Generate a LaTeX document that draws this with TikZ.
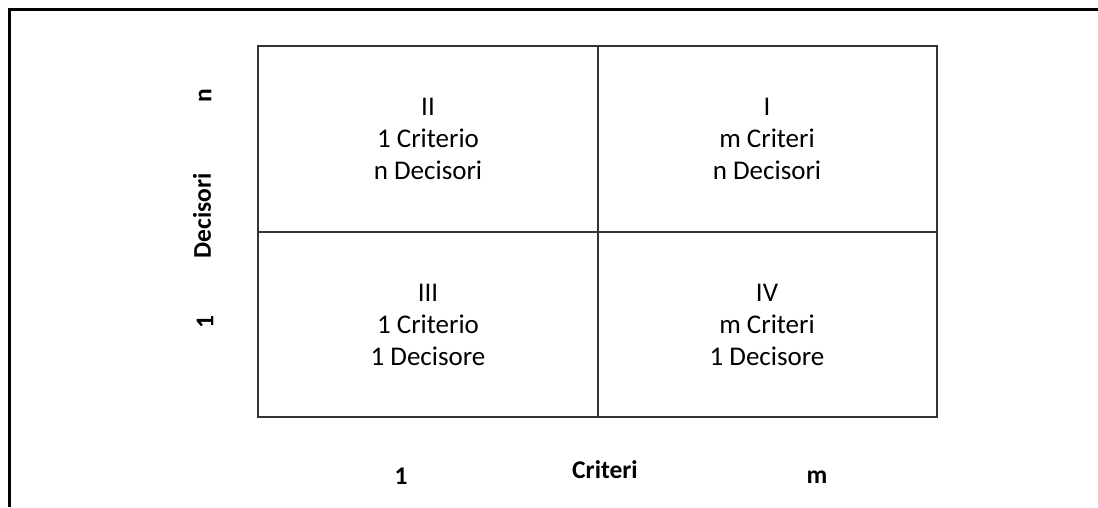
\documentclass[tikz,border=0pt]{standalone}
\usepackage{fontspec}
\setmainfont{Carlito}
\usepackage{tikz}

\begin{document}
\begin{tikzpicture}[x=1pt,y=-1pt,
  cell/.style={align=center,font=\fontsize{27}{32}\selectfont},
  axis/.style={font=\bfseries\fontsize{25.5}{28}\selectfont}]

\useasboundingbox (0,0) rectangle (1098,507);

% outer frame
\coordinate (f0) at (9,507);
\coordinate (f1) at (9,9);
\coordinate (f2) at (1098,9);
\draw[line width=3pt] (f0) -- (f1) -- (f2);

% grid corners
\coordinate (tl) at (258,46);
\coordinate (tm) at (598,46);
\coordinate (tr) at (937,46);
\coordinate (ml) at (258,232);
\coordinate (mr) at (937,232);
\coordinate (bl) at (258,417);
\coordinate (bm) at (598,417);
\coordinate (br) at (937,417);

\draw[line width=1.4pt,black!80] (tl) -- (tr) -- (br) -- (bl) -- cycle;
\draw[line width=1.4pt,black!80] (tm) -- (bm);
\draw[line width=1.4pt,black!80] (ml) -- (mr);

\node (II) at (428,139) [cell] {II\\1 Criterio\\n Decisori};
\node (I) at (767,139) [cell] {I\\m Criteri\\n Decisori};
\node (III) at (428,325) [cell] {III\\1 Criterio\\1 Decisore};
\node (IV) at (767,325) [cell] {IV\\m Criteri\\1 Decisore};

\node (dn) at (205,96) [axis,rotate=90] {n};
\node (dec) at (202,216) [axis,rotate=90] {Decisori};
\node (d1) at (205,322) [axis,rotate=90] {1};

\node (c1) at (401,476) [axis] {1};
\node (crit) at (605,470) [axis] {Criteri};
\node (cm) at (817,477) [axis] {m};

\end{tikzpicture}
\end{document}
